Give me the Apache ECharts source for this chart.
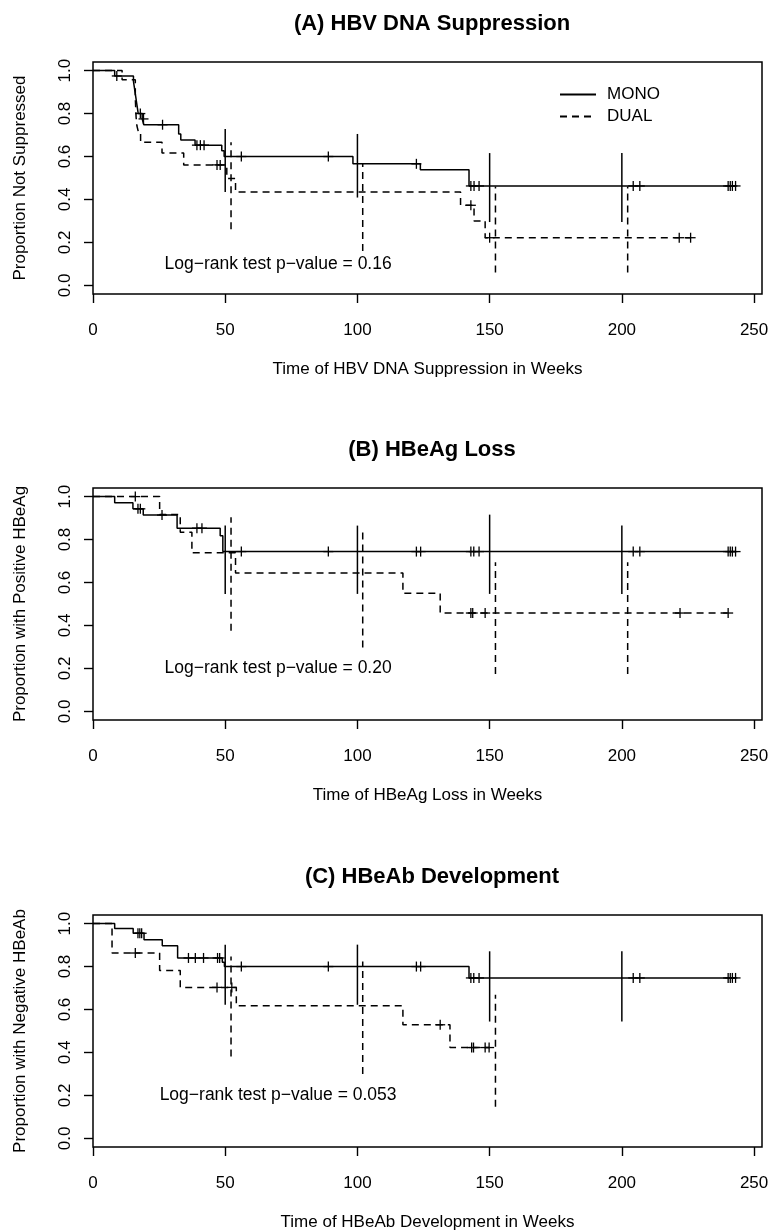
<!DOCTYPE html>
<html>
<head>
<meta charset="utf-8">
<script src="https://cdn.jsdelivr.net/npm/echarts@6/dist/echarts.min.js"></script>
<style>
  html, body { margin: 0; padding: 0; background: #fff; }
  #chart { width: 773px; height: 1232px; }
</style>
</head>
<body>
<div id="chart"></div>
<script>
// axis ticks
const xTicks = [0, 50, 100, 150, 200, 250]
const yTicks = [0, 0.2, 0.4, 0.6, 0.8, 1.0]

// texts
const panelTitles = ['(A) HBV DNA Suppression', '(B) HBeAg Loss', '(C) HBeAb Development']
const xNames = ['Time of HBV DNA Suppression in Weeks', 'Time of HBeAg Loss in Weeks', 'Time of HBeAb Development in Weeks']
const yNames = ['Proportion Not Suppressed', 'Proportion with Positive HBeAg', 'Proportion with Negative HBeAb']
const pValueTexts = ['Log\u2212rank test p\u2212value = 0.16', 'Log\u2212rank test p\u2212value = 0.20', 'Log\u2212rank test p\u2212value = 0.053']
const groupNames = ['MONO', 'DUAL']

// Kaplan-Meier steps [week, proportion]
const monoA = [[0, 1], [8.2, 0.975], [15.3, 0.95], [15.6, 0.925], [15.9, 0.9], [16.2, 0.875], [16.5, 0.85], [16.8, 0.825], [17.1, 0.8], [18.6, 0.775], [19.2, 0.748], [32.4, 0.705], [33.2, 0.677], [38.6, 0.653], [48.7, 0.627], [49.6, 0.6], [98.3, 0.566], [123.8, 0.538], [142.2, 0.463], [243, 0.463]]
const dualA = [[0, 1], [11, 0.957], [16, 0.87], [16.3, 0.783], [16.6, 0.743], [17.2, 0.713], [18, 0.666], [26.1, 0.616], [34.3, 0.561], [50.6, 0.498], [53.9, 0.435], [139, 0.373], [144.1, 0.3], [148.3, 0.222], [226, 0.222]]
const monoB = [[0, 1], [8.2, 0.971], [15.1, 0.943], [19, 0.914], [31.8, 0.853], [48.1, 0.818], [49.1, 0.744], [243, 0.744]]
const dualB = [[0, 1], [25.2, 0.917], [33, 0.834], [37.4, 0.738], [53.9, 0.644], [117.2, 0.55], [131.3, 0.458], [240.2, 0.458]]
const monoC = [[0, 1], [8.2, 0.977], [15.2, 0.955], [19.3, 0.925], [26.2, 0.897], [32, 0.84], [48.9, 0.82], [49.7, 0.8], [142.2, 0.747], [243, 0.747]]
const dualC = [[0, 1], [7.2, 0.863], [25.2, 0.782], [33, 0.703], [54.2, 0.617], [117.2, 0.529], [135, 0.423], [149.8, 0.423]]

// censored observations [week, proportion]
const monoCensA = [[9, 0.975], [17.9, 0.8], [19.1, 0.775], [26.3, 0.748], [39.3, 0.653], [40.6, 0.653], [42, 0.653], [56.1, 0.6], [89, 0.6], [122.3, 0.566], [142.9, 0.463], [144.1, 0.463], [146, 0.463], [204.3, 0.463], [206.8, 0.463], [240.2, 0.463], [241, 0.463], [241.8, 0.463], [243, 0.463]]
const dualCensA = [[46.9, 0.561], [48.1, 0.561], [142.9, 0.373], [150, 0.222], [221.7, 0.222], [226, 0.222]]
const monoCensB = [[17, 0.943], [17.9, 0.943], [26.1, 0.914], [39.3, 0.853], [41.2, 0.853], [56.1, 0.744], [89, 0.744], [122.3, 0.744], [123.9, 0.744], [142.9, 0.744], [144, 0.744], [146, 0.744], [204.3, 0.744], [206.8, 0.744], [240.2, 0.744], [241, 0.744], [241.8, 0.744], [243, 0.744]]
const dualCensB = [[16, 1], [142.9, 0.458], [143.6, 0.458], [148.3, 0.458], [222, 0.458], [240.2, 0.458]]
const monoCensC = [[17, 0.955], [17.7, 0.955], [18.4, 0.955], [36.1, 0.84], [38.7, 0.84], [41.8, 0.84], [47.1, 0.84], [47.9, 0.84], [56.1, 0.8], [89, 0.8], [122.3, 0.8], [123.9, 0.8], [142.9, 0.747], [144, 0.747], [146, 0.747], [204.3, 0.747], [206.8, 0.747], [240.2, 0.747], [241, 0.747], [241.8, 0.747], [243, 0.747]]
const dualCensC = [[16, 0.863], [46.9, 0.703], [52.5, 0.703], [131.3, 0.529], [143.2, 0.423], [143.9, 0.423], [148.3, 0.423], [149.8, 0.423]]

// confidence intervals [week, lower, upper]
const monoCiA = [[50, 0.435, 0.728], [100, 0.409, 0.705], [150, 0.295, 0.616], [200, 0.295, 0.616]]
const dualCiA = [[52.2, 0.261, 0.666], [102, 0.16, 0.565], [152.2, 0.06, 0.46], [202.2, 0.06, 0.46]]
const monoCiB = [[50, 0.547, 0.865], [100, 0.547, 0.865], [150, 0.547, 0.916], [200, 0.547, 0.865]]
const dualCiB = [[52.2, 0.376, 0.904], [102, 0.298, 0.834], [152.2, 0.174, 0.694], [202.2, 0.174, 0.694]]
const monoCiC = [[50, 0.622, 0.902], [100, 0.622, 0.902], [150, 0.544, 0.871], [200, 0.544, 0.871]]
const dualCiC = [[52.2, 0.381, 0.847], [102, 0.3, 0.824], [152.2, 0.147, 0.669]]

const panels = [
  { mono: monoA, dual: dualA, monoCens: monoCensA, dualCens: dualCensA, monoCi: monoCiA, dualCi: dualCiA },
  { mono: monoB, dual: dualB, monoCens: monoCensB, dualCens: dualCensB, monoCi: monoCiB, dualCi: dualCiB },
  { mono: monoC, dual: dualC, monoCens: monoCensC, dualCens: dualCensC, monoCi: monoCiC, dualCi: dualCiC }
]

const FONT = '"Liberation Sans", Arial, Helvetica, sans-serif'
const INK = '#000'
const DASH = [7, 5]
const gridTops = [62, 488, 915]

const ciSeries = (name, data, gi, dashed) => ({
  name,
  type: 'custom',
  xAxisIndex: gi,
  yAxisIndex: gi,
  encode: { x: 0, y: [1, 2] },
  data,
  renderItem: (params, api) => {
    const lo = api.coord([api.value(0), api.value(1)])
    const hi = api.coord([api.value(0), api.value(2)])
    return {
      type: 'line',
      shape: { x1: lo[0], y1: lo[1], x2: hi[0], y2: hi[1] },
      style: { stroke: INK, lineWidth: 1.5, lineDash: dashed ? DASH : null }
    }
  }
})

// censor marks drawn as "+"
const censSeries = (name, data, gi) => ({
  name,
  type: 'custom',
  xAxisIndex: gi,
  yAxisIndex: gi,
  encode: { x: 0, y: 1 },
  data,
  renderItem: (params, api) => {
    const p = api.coord([api.value(0), api.value(1)])
    const h = 5
    return {
      type: 'group',
      children: [
        { type: 'line', shape: { x1: p[0] - h, y1: p[1], x2: p[0] + h, y2: p[1] }, style: { stroke: INK, lineWidth: 1.3 } },
        { type: 'line', shape: { x1: p[0], y1: p[1] - h, x2: p[0], y2: p[1] + h }, style: { stroke: INK, lineWidth: 1.3 } }
      ]
    }
  }
})

const kmSeries = (name, data, gi, dashed) => ({
  name,
  type: 'line',
  step: 'end',
  xAxisIndex: gi,
  yAxisIndex: gi,
  symbol: 'none',
  data,
  lineStyle: { color: INK, width: 1.5, type: dashed ? DASH : 'solid' },
  itemStyle: { color: INK }
})

const series = []
panels.forEach((p, gi) => {
  series.push(kmSeries(groupNames[0], p.mono, gi, false))
  series.push(kmSeries(groupNames[1], p.dual, gi, true))
})
panels.forEach((p, gi) => {
  series.push(ciSeries('MONO CI', p.monoCi, gi, false))
  series.push(ciSeries('DUAL CI', p.dualCi, gi, true))
  series.push(censSeries('MONO censored', p.monoCens, gi))
  series.push(censSeries('DUAL censored', p.dualCens, gi))
})

const option = {
  animation: false,
  backgroundColor: '#fff',
  textStyle: { fontFamily: FONT, color: INK },
  title: panelTitles.map((t, i) => ({
    text: t,
    left: 427,
    textAlign: 'center',
    top: gridTops[i] - 54,
    textStyle: { fontFamily: FONT, fontSize: 22, fontWeight: 'bold', color: INK }
  })),
  legend: {
    data: groupNames,
    orient: 'vertical',
    left: 554,
    top: 81,
    itemWidth: 36,
    itemHeight: 12,
    itemGap: 5,
    itemStyle: { opacity: 0 },
    textStyle: { fontFamily: FONT, fontSize: 17, color: INK, padding: [0, 0, 0, 6] }
  },
  grid: gridTops.map(top => ({
    left: 93,
    right: 11,
    top,
    height: 232,
    show: true,
    borderColor: INK,
    borderWidth: 1.5,
    backgroundColor: 'transparent'
  })),
  xAxis: gridTops.map((_, i) => ({
    type: 'value',
    gridIndex: i,
    min: 0,
    max: 253,
    name: xNames[i],
    nameLocation: 'middle',
    nameGap: 67,
    nameTextStyle: { fontFamily: FONT, fontSize: 17, color: INK },
    axisLine: { show: false, onZero: false },
    axisTick: { show: true, length: 9, customValues: xTicks, lineStyle: { color: INK, width: 1.4 } },
    axisLabel: { customValues: xTicks, margin: 28, fontSize: 17, color: INK, fontFamily: FONT },
    splitLine: { show: false }
  })),
  yAxis: gridTops.map((_, i) => ({
    type: 'value',
    gridIndex: i,
    min: -0.04,
    max: 1.04,
    name: yNames[i],
    nameLocation: 'middle',
    nameGap: 64,
    nameTextStyle: { fontFamily: FONT, fontSize: 17, color: INK },
    axisLine: { show: false, onZero: false },
    axisTick: { show: true, length: 9, customValues: yTicks, lineStyle: { color: INK, width: 1.4 } },
    axisLabel: {
      customValues: yTicks,
      rotate: 90,
      margin: 19,
      fontSize: 17,
      color: INK,
      fontFamily: FONT,
      formatter: v => Number(v).toFixed(1)
    },
    splitLine: { show: false }
  })),
  series
}

const chart = echarts.init(document.getElementById('chart'))
chart.setOption(option)

// p-value annotations placed in data coordinates of each panel
const annotAt = [[70, 0.1], [70, 0.2], [70, 0.2]]
chart.setOption({
  graphic: pValueTexts.map((t, i) => {
    const pos = chart.convertToPixel({ gridIndex: i }, annotAt[i])
    return {
      type: 'text',
      x: pos[0],
      y: pos[1],
      style: { text: t, fontFamily: FONT, fontSize: 17.5, fill: INK, textAlign: 'center', textVerticalAlign: 'middle' }
    }
  })
})
</script>
</body>
</html>
